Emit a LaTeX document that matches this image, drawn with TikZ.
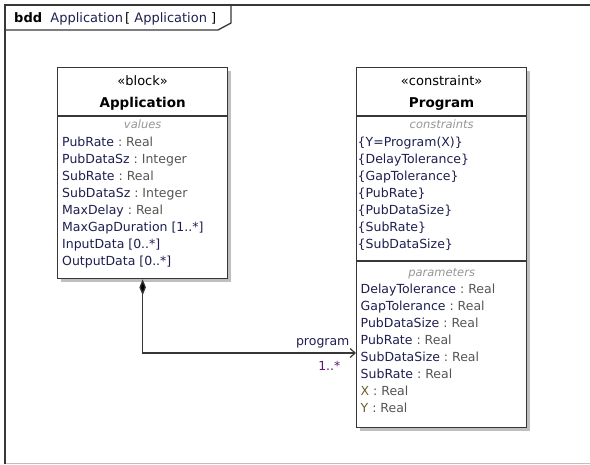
\documentclass[tikz,border=0pt]{standalone}
\usepackage{fontspec}
\setmainfont{DejaVu Sans}
\usepackage{tikz}
\usetikzlibrary{arrows.meta, positioning, calc, shadows}

\definecolor{namecol}{RGB}{30,30,80}
\definecolor{typecol}{RGB}{85,85,85}
\definecolor{hintcol}{RGB}{150,150,150}
\definecolor{multcol}{RGB}{95,25,110}
\definecolor{paramcol}{RGB}{110,95,40}
\definecolor{linecol}{RGB}{55,55,55}

\newcommand{\ty}[1]{\ \textcolor{typecol}{:\ #1}}

\begin{document}
\begin{tikzpicture}[x=1pt, y=-1pt,
    block/.style={draw=linecol, line width=1.3pt, fill=white, anchor=north west,
      minimum width=170pt, inner sep=0pt,
      drop shadow={shadow xshift=3pt, shadow yshift=-3pt, fill=black!25, opacity=1}},
    divider/.style={draw=linecol, line width=1.2pt},
    stereo/.style={font=\fontsize{13}{15}\selectfont, anchor=base, inner sep=0pt},
    title/.style={font=\fontsize{13.5}{16}\selectfont\bfseries, anchor=base, inner sep=0pt},
    hint/.style={font=\fontsize{11.5}{14}\selectfont\itshape, text=hintcol, anchor=base, inner sep=0pt},
    attr/.style={font=\fontsize{12.5}{17}\selectfont, text=namecol, anchor=base west, inner sep=0pt},
    frameline/.style={draw=linecol, line width=1.3pt},
    assoc/.style={draw=linecol, line width=1.2pt,
      {Diamond[length=16pt,width=6.5pt,fill=black]}-{Straight Barb[length=5pt,width=9pt]}}]
    \useasboundingbox (0,0) rectangle (590,464);

    % diagram frame
    \draw[black!25, line width=1.5pt] (5,463.5) -- (590,463.5);
    \draw[frameline] (590,5) -- (5,5) -- (5,464);
    \draw[frameline] (5,30) -- (218,30) -- (231,23) -- (231,5);
    \node[anchor=base west, inner sep=0pt, font=\fontsize{13}{15}\selectfont] (framehd) at (14,22)
      {\textbf{bdd}\ \ \textcolor{namecol}{Application}\,[ \textcolor{namecol}{Application} ]};

    % blocks
    \node[block, minimum height=211pt] (app) at (57,67) {};
    \node[block, minimum height=360pt] (prog) at (356,67) {};
    \draw[divider] ([yshift=-49pt]app.north west) -- ([yshift=-49pt]app.north east);
    \draw[divider] ([yshift=-49pt]prog.north west) -- ([yshift=-49pt]prog.north east);
    \draw[divider] ([yshift=-194pt]prog.north west) -- ([yshift=-194pt]prog.north east);

    \node[stereo] (appst) at ($(app.north)+(0,18)$) {«block»};
    \node[title] (appname) at ($(app.north)+(0,40)$) {Application};
    \node[stereo] (progst) at ($(prog.north)+(0,18)$) {«constraint»};
    \node[title] (progname) at ($(prog.north)+(0,40)$) {Program};

    \node[hint] (apphint) at ($(app.north)+(0,61.5)$) {values};
    \node[hint] (conhint) at ($(prog.north)+(0,61.5)$) {constraints};
    \node[hint] (parhint) at ($(prog.north)+(0,209)$) {parameters};

    \foreach \txt [count=\i] in {PubRate\ty{Real}, PubDataSz\ty{Integer},
        SubRate\ty{Real}, SubDataSz\ty{Integer}, MaxDelay\ty{Real},
        MaxGapDuration [1..*], InputData [0..*], OutputData [0..*]}
      \node[attr] (appv\i) at ($(app.north west)+(5,62+17*\i)$) {\txt};

    \foreach \txt [count=\i] in {\{Y=Program(X)\}, \{DelayTolerance\}, \{GapTolerance\},
        \{PubRate\}, \{PubDataSize\}, \{SubRate\}, \{SubDataSize\}}
      \node[attr] (progc\i) at ($(prog.north west)+(1.5,62+17*\i)$) {\txt};

    \foreach \txt [count=\i] in {DelayTolerance\ty{Real}, GapTolerance\ty{Real},
        PubDataSize\ty{Real}, PubRate\ty{Real}, SubDataSize\ty{Real},
        SubRate\ty{Real}, \textcolor{paramcol}{X}\ty{Real},
        \textcolor{paramcol}{Y}\ty{Real}}
      \node[attr] (progp\i) at ($(prog.north west)+(4.5,209+17*\i)$) {\txt};

    % part association
    \draw[assoc] (app.south) |- ($(prog.north west)+(0,286)$)
      node[pos=1, attr, anchor=base east, xshift=-6pt, yshift=8pt] (rolelbl) {program}
      node[pos=1, attr, text=multcol, anchor=base east, xshift=-15pt, yshift=-17pt] (multlbl) {1..*};
\end{tikzpicture}
\end{document}
